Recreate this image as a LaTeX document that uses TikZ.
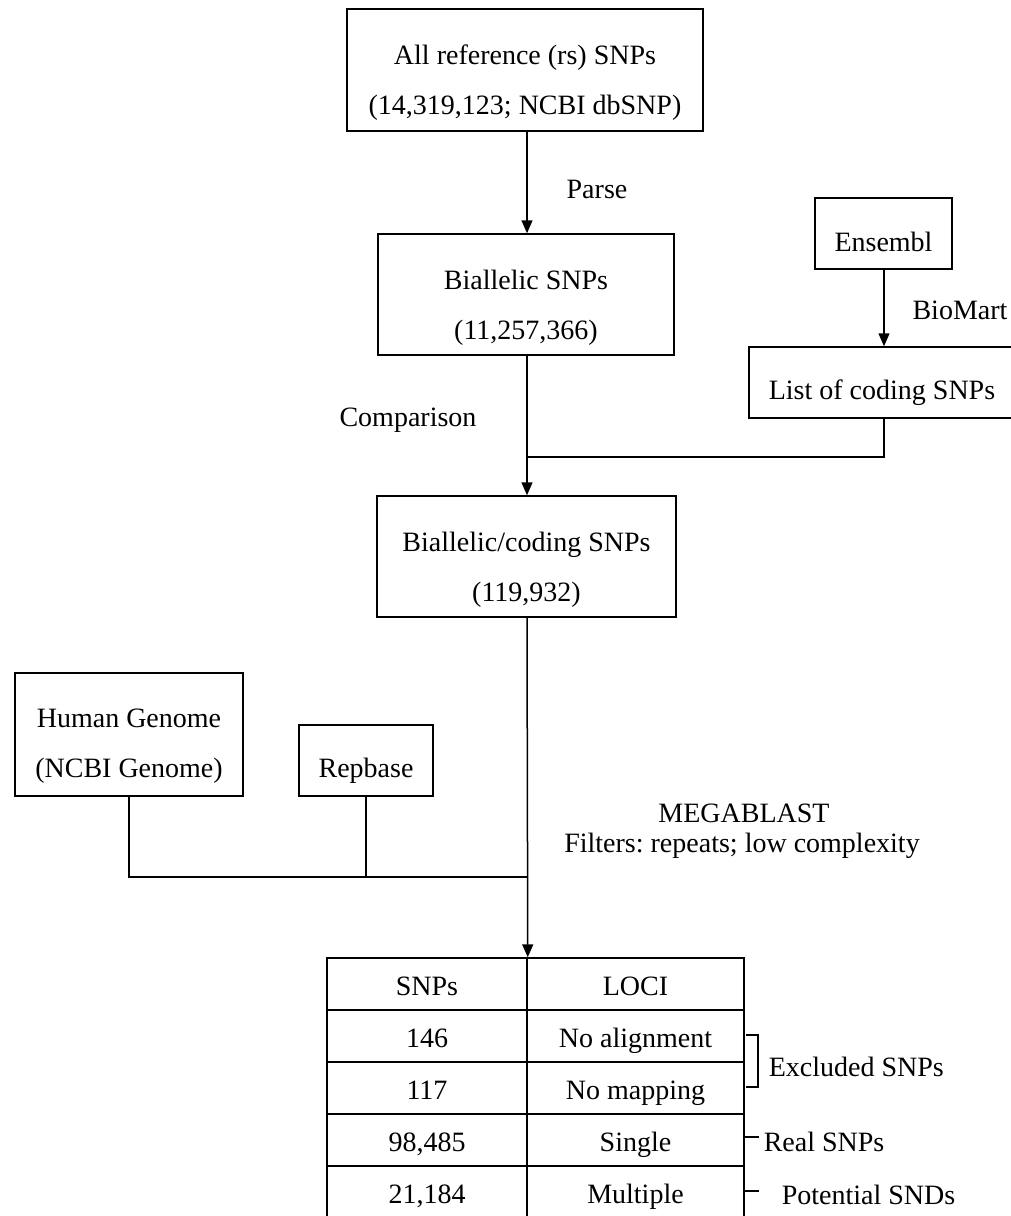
\documentclass[tikz,border=0pt]{standalone}
\usepackage{fontspec}
\setmainfont{Liberation Serif}
\usetikzlibrary{arrows.meta}
\frenchspacing
\begin{document}
\begin{tikzpicture}[x=1pt,y=-1pt,line width=1.5pt,
  boxn/.style={draw,inner sep=0pt},
  txt/.style={font=\fontsize{28}{50}\selectfont\frenchspacing,align=center,inner sep=0pt},
  cell/.style={draw,inner sep=0pt,minimum height=52,font=\fontsize{28}{34}\selectfont,text height=29,text depth=6},
  arr/.style={-{Triangle[length=13pt,width=11pt]}}]
\useasboundingbox (0,0) rectangle (1011,1216);
% boxes
\node[boxn,minimum width=356,minimum height=122] (b1) at (525,70) {};
\node[txt] (b1t) at (525,83) {All reference (rs) SNPs\\(14,319,123; NCBI dbSNP)};
\node[boxn,minimum width=296,minimum height=121] (b2) at (526,294.5) {};
\node[txt] (b2t) at (526,307.5) {Biallelic SNPs\\(11,257,366)};
\node[boxn,minimum width=137,minimum height=71] (ens) at (883.5,233.5) {};
\node[txt] (enst) at (883.5,242) {Ensembl};
\node[boxn,minimum width=266,minimum height=71] (list) at (882,382.5) {};
\node[txt] (listt) at (882,393) {List of coding SNPs};
\node[boxn,minimum width=299,minimum height=121] (b3) at (526.5,556.5) {};
\node[txt] (b3t) at (526.5,569.5) {Biallelic/coding SNPs\\(119,932)};
\node[boxn,minimum width=228,minimum height=123] (hg) at (129,734.5) {};
\node[txt] (hgt) at (129,746.5) {Human Genome\\(NCBI Genome)};
\node[boxn,minimum width=134,minimum height=71] (rep) at (366,760.5) {};
\node[txt] (rept) at (366,771) {Repbase};
% labels
\node[txt] (parse) at (597,189) {Parse};
\node[txt] (biomart) at (960,310) {BioMart};
\node[txt] (comp) at (408,420) {Comparison};
\node[txt] (mega) at (744,813) {MEGABLAST};
\node[txt] (filt) at (742,846) {Filters: repeats; low complexity};
% table
\node[cell,minimum width=200] (c11) at (427,984) {SNPs};
\node[cell,minimum width=217] (c12) at (635.5,984) {LOCI};
\node[cell,minimum width=200] (c21) at (427,1036) {146};
\node[cell,minimum width=217] (c22) at (635.5,1036) {No alignment};
\node[cell,minimum width=200] (c31) at (427,1088) {117};
\node[cell,minimum width=217] (c32) at (635.5,1088) {No mapping};
\node[cell,minimum width=200] (c41) at (427,1140) {98,485};
\node[cell,minimum width=217] (c42) at (635.5,1140) {Single};
\node[cell,minimum width=200] (c51) at (427,1192) {21,184};
\node[cell,minimum width=217] (c52) at (635.5,1192) {Multiple};
% connectors
\coordinate (spine) at (527,0);
\coordinate (j1) at (527,457);
\coordinate (j2) at (527,877);
\draw[arr] (b1.south -| spine) -- (b2.north -| spine);
\draw[arr] (ens.south -| 884,0) -- (list.north -| 884,0);
\draw (list.south -| 884,0) -- (j1 -| 884,0) -- (j1);
\draw[arr] (b2.south -| spine) -- (b3.north -| spine);
\draw[arr] (b3.south -| spine) -- (c11.north east);
\draw (hg.south) -- (hg.south |- j2) -- (j2);
\draw (rep.south) -- (rep.south |- j2);
% brackets
\draw (746,1035) -- (758,1035) -- (758,1087) -- (746,1087);
\node[txt,anchor=west] (excl) at (768,1067) {Excluded SNPs};
\draw (744,1137) -- (759,1137);
\node[txt,anchor=west] (real) at (763,1142) {Real SNPs};
\draw (744,1191) -- (759,1191);
\node[txt,anchor=west] (pot) at (781,1195) {Potential SNDs};
\end{tikzpicture}
\end{document}
